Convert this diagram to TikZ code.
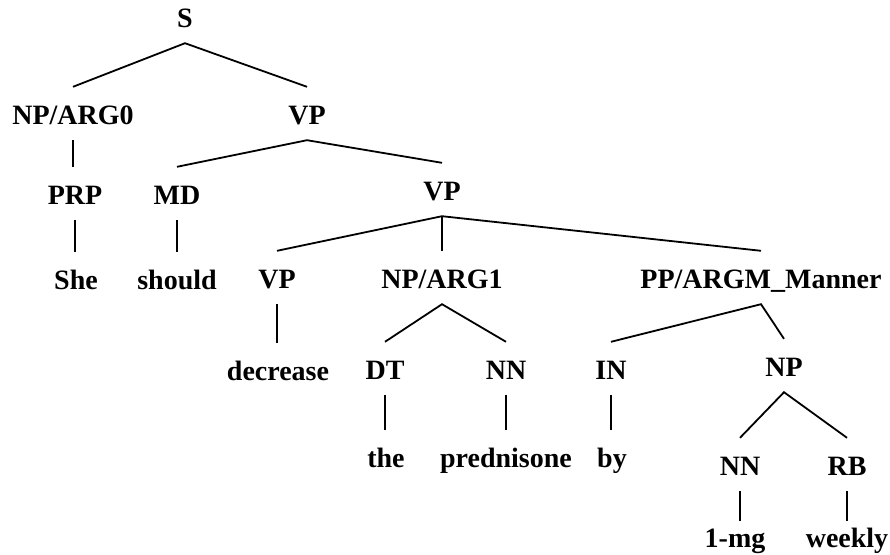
\documentclass[tikz,border=0pt]{standalone}
\usepackage{fontspec}
\setmainfont{Liberation Serif}
\usepackage{tikz}

\begin{document}
\begin{tikzpicture}[x=1pt, y=-1pt,
    tag/.style={font=\fontsize{28}{30}\selectfont\bfseries, inner sep=0pt, anchor=base, text height=37pt, text depth=16pt},
    lowtag/.style={tag, text height=26pt},
    branch/.style={line width=1.8pt}]
      \useasboundingbox (0, 0) rectangle (890, 554);

      \node[tag] (s) at(185, 27) {S};
      \node[tag] (np0) at(73, 124) {NP/ARG0};
      \node[tag] (vp1) at(307, 124) {VP};
      \node[tag] (prp) at(75, 204) {PRP};
      \node[tag] (md) at(177, 204) {MD};
      \node[tag] (vp2) at(442, 200) {VP};
      \node[tag] (she) at(76, 289) {She};
      \node[tag] (should) at(177, 289) {should};
      \node[tag] (vp3) at(277, 288) {VP};
      \node[tag] (np1) at(442, 288) {NP/ARG1};
      \node[tag] (pp) at(761, 288) {PP/ARGM\_Manner};
      \node[tag] (decrease) at(278, 380) {decrease};
      \node[tag] (dt) at(385, 379) {DT};
      \node[tag] (nn1) at(506, 379) {NN};
      \node[tag] (in) at(611, 379) {IN};
      \node[tag] (np2) at(784, 376) {NP};
      \node[tag] (the) at(386, 467) {the};
      \node[tag] (pred) at(506, 467) {prednisone};
      \node[tag] (by) at(612, 467) {by};
      \node[tag] (nn2) at(740, 475) {NN};
      \node[tag] (rb) at(847, 475) {RB};
      \node[lowtag] (mg) at(735, 547) {1-mg};
      \node[lowtag] (weekly) at(847, 547) {weekly};

      \draw[branch] (np0.north) -- (s.south) -- (vp1.north);
      \draw[branch] (md.north) -- (vp1.south) -- (vp2.north);
      \draw[branch] (vp3.north) -- (vp2.south) -- (pp.north);
      \draw[branch] (vp2.south) -- (np1.north);
      \draw[branch] (dt.north) -- (np1.south) -- (nn1.north);
      \draw[branch] (in.north) -- (pp.south) -- (np2.north);
      \draw[branch] (nn2.north) -- (np2.south) -- (rb.north);

      \draw[branch] (np0.south) -- (np0.south |- prp.north);
      \draw[branch] (prp.south) -- (prp.south |- she.north);
      \draw[branch] (md.south) -- (md.south |- should.north);
      \draw[branch] (vp3.south) -- (vp3.south |- decrease.north);
      \draw[branch] (dt.south) -- (dt.south |- the.north);
      \draw[branch] (nn1.south) -- (nn1.south |- pred.north);
      \draw[branch] (in.south) -- (in.south |- by.north);
      \draw[branch] (nn2.south) -- (nn2.south |- mg.north);
      \draw[branch] (rb.south) -- (rb.south |- weekly.north);
      
    \end{tikzpicture}
\end{document}
